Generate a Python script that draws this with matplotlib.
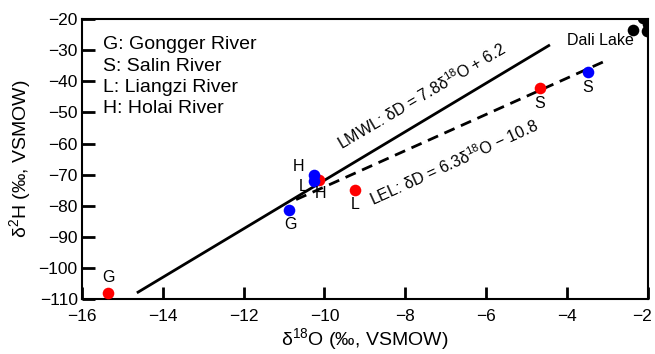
import matplotlib
matplotlib.use("Agg")
import matplotlib.pyplot as plt
import matplotlib.transforms as mtransforms
import numpy as np

plt.rcParams['font.family'] = ['Liberation Sans', 'DejaVu Sans']
plt.rcParams['mathtext.fontset'] = 'custom'
plt.rcParams['mathtext.rm'] = 'Liberation Sans'

# Data
red_x = [-15.35, -10.14, -9.25, -4.67]
red_y = [-108.0, -71.6, -74.8, -42.1]
red_labels = ['G', 'H', 'L', 'S']
blue_x = [-10.88, -10.26, -10.26, -3.48]
blue_y = [-81.2, -70.0, -72.0, -37.0]
blue_labels = ['G', 'H', 'L', 'S']
lake_x = [-2.12, -2.37, -2.03, -2.0]
lake_y = [-19.7, -23.5, -23.8, -21.5]

lmwl_x = [-14.61, -4.45]
lmwl_slope, lmwl_int = 7.8, 6.2
lel_x = [-10.7, -3.11]
lel_y = [-78.0, -33.8]

legend_lines = ['G: Gongger River', 'S: Salin River', 'L: Liangzi River', 'H: Holai River']

fig = plt.figure(figsize=(6.55, 3.54), dpi=100)
ax = fig.add_axes([0.125, 0.155, 0.864, 0.791])

lx = np.array(lmwl_x)
ax.plot(lx, lmwl_slope * lx + lmwl_int, color='black', lw=2)
ax.plot(lel_x, lel_y, color='black', lw=2, ls=(0, (4, 2.5)))

ax.scatter(red_x, red_y, s=70, color='#ff0000', zorder=3, linewidths=0)
ax.scatter(blue_x, blue_y, s=70, color='#0000ff', zorder=3, linewidths=0)
ax.scatter(lake_x, lake_y, s=70, color='black', zorder=3, linewidths=0)

fs = 11.5
def lab(x, y, t, dx, dy, ha='center'):
    ax.annotate(t, (x, y), xytext=(dx, dy), textcoords='offset points',
                ha=ha, va='center', fontsize=fs)

# red
lab(red_x[0], red_y[0], 'G', 0, 11)
lab(red_x[1], red_y[1], 'H', 1, -10)
lab(red_x[2], red_y[2], 'L', 0, -11)
lab(red_x[3], red_y[3], 'S', 0, -11)
# blue
lab(blue_x[0], blue_y[0], 'G', 1, -11)
lab(blue_x[1], blue_y[1], 'H', -11, 6)
lab(blue_x[2], blue_y[2], 'L', -8, -4)
lab(blue_x[3], blue_y[3], 'S', 0, -11)
ax.text(-2.35, -26.8, 'Dali Lake', ha='right', va='center', fontsize=fs)

ax.text(-7.6, -44.8, 'LMWL: \u03b4D = 7.8\u03b4$^{18}$O + 6.2',
        rotation=30.5, ha='center', va='center', fontsize=fs, rotation_mode='anchor')
ax.text(-6.8, -66.2, 'LEL: \u03b4D = 6.3\u03b4$^{18}$O \u2212 10.8',
        rotation=24.5, ha='center', va='center', fontsize=fs, rotation_mode='anchor')

for i, t in enumerate(legend_lines):
    ax.text(0.037, 0.908 - i * 0.0755, t, transform=ax.transAxes, ha='left',
            va='center', fontsize=14)

ax.set_xlim(-16, -2)
ax.set_ylim(-110, -20)
ax.set_xticks(np.arange(-16, -1, 2))
ax.set_yticks(np.arange(-110, -19, 10))
ax.set_xticklabels(['\u2212%d' % abs(v) for v in range(-16, -1, 2)])
ax.set_yticklabels(['\u2212%d' % abs(v) for v in range(-110, -19, 10)])
ax.tick_params(direction='in', length=9, width=2, labelsize=12.5)
ax.tick_params(axis='x', pad=7)
ax.tick_params(axis='y', pad=3)
for s in ax.spines.values():
    s.set_linewidth(1.5)

# keep the last x tick label inside the figure
last = ax.get_xticklabels()[-1]
last.set_transform(last.get_transform() +
                   mtransforms.ScaledTranslation(-6 / 100, 0, fig.dpi_scale_trans))

ax.set_xlabel('\u03b4$^{18}$O (\u2030, VSMOW)', fontsize=14, labelpad=2)
ax.set_ylabel('\u03b4$^{2}$H (\u2030, VSMOW)', fontsize=14, labelpad=3)

fig.savefig('out.png', dpi=100)
